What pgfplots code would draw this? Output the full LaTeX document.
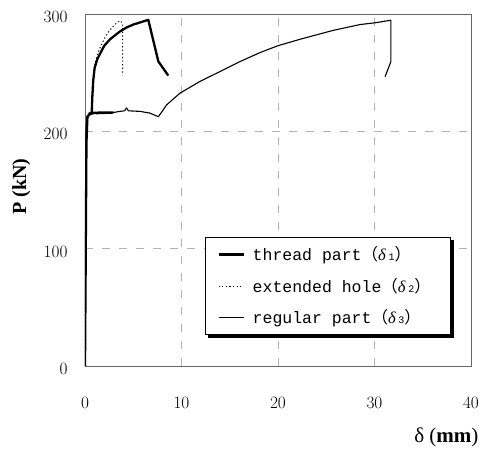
\documentclass[border=0pt]{standalone}
\usepackage{pgfplots}
\pgfplotsset{compat=1.18}
\usepackage{fontspec}
\setmainfont{Liberation Serif}
\newfontfamily\legfont{Liberation Mono}
\newfontfamily\cjk{Noto Sans CJK JP}
\usetikzlibrary{calc,backgrounds}
\newcommand{\dd}[1]{{\cjk （}{\fontspec{Liberation Serif}\itshape δ}\,{\fontsize{10}{10}\selectfont #1}{\cjk ）}}
\begin{document}
\begin{tikzpicture}
\begin{axis}[
  scale only axis,
  width=386pt, height=352pt,
  xmin=0, xmax=40, ymin=0, ymax=300,
  xtick={0,10,20,30,40}, ytick={0,100,200,300},
  axis line style={draw=black!60, line width=0.8pt},
  major tick length=0pt,
  grid=major,
  major grid style={gray!60, line width=0.8pt, dash pattern=on 8pt off 9pt},
  tick label style={font=\fontsize{18}{18}\selectfont},
  xticklabel style={yshift=-28pt},
  yticklabel style={xshift=-14pt, yshift=-3pt},
  xlabel={δ (\textbf{mm})},
  xlabel style={font=\fontsize{21}{21}\selectfont, at={(rel axis cs:1,0)}, anchor=base east, yshift=-76pt, xshift=11pt},
  ylabel={\textbf{P (kN)}},
  ylabel style={font=\fontsize{20}{20}\selectfont, at={(rel axis cs:-0.165,0.51)}, anchor=center},
  legend cell align=left,
  legend style={name=leg, at={(rel axis cs:0.311,0.366)}, anchor=north west, draw=black, line width=0.8pt,
    font=\legfont\fontsize{16.5}{20}\selectfont, row sep=12pt, inner xsep=12pt, inner ysep=7pt,
    column sep=0pt, nodes={inner xsep=8pt}},
  legend image code/.code={\draw[#1] (0pt,0pt) -- (25pt,0pt);},
]
\path (rel axis cs:0,0) coordinate (O);
% thread part
\addplot[black, line width=2.3pt, line join=round] coordinates {
(0,0) (0.08,100) (0.15,190) (0.25,212) (0.5,215.5) (1.5,216) (2.9,216) (1.2,215.5) (0.7,216)
(0.75,228) (0.85,243) (1.0,254) (1.25,261) (1.55,266) (2.0,273) (2.6,278.5) (3.6,285)
(4.3,288.5) (5.0,291) (5.7,292.8) (6.56,295) (7.6,259.6) (8.63,247.5)};
\addlegendentry{thread part\dd{1}}
% extended hole
\addplot[black, line width=1pt, dash pattern=on 1.2pt off 2.4pt] coordinates {
(0,0) (0.08,100) (0.15,190) (0.3,213) (0.7,216) (0.75,230) (0.85,245) (1.0,256) (1.3,266)
(1.65,273) (2.07,280) (2.5,285.5) (2.93,289.6) (3.3,292.5) (3.63,294.3) (3.9,292) (3.9,248)};
\addlegendentry{extended hole\dd{2}}
% regular part
\addplot[black, line width=1.1pt, line join=round] coordinates {
(0,0) (0.05,100) (0.1,200) (0.2,213) (1.0,215.5) (2.9,216) (3.6,217) (4.1,217.5) (4.3,220)
(4.5,217.5) (5.7,217) (6.7,215.6) (7.6,212.5) (8.0,217) (8.45,222.5) (9.84,232.5) (11.9,242.5)
(14,251) (16.1,259.6) (18.1,267) (20,273) (22.3,278.5) (25.7,286) (28.5,291) (30.05,292.5)
(31.7,294.7) (31.7,259.6) (31.1,246.6)};
\addlegendentry{regular part\dd{3}}
\end{axis}
\begin{scope}[on background layer]
\fill[black] ($(leg.south west)+(3pt,-3pt)$) rectangle ($(leg.north east)+(3pt,-3pt)$);
\end{scope}
\pgfresetboundingbox
\path ($(O)+(-85pt,-82pt)$) rectangle ($(O)+(394pt,366pt)$);
\end{tikzpicture}
\end{document}
